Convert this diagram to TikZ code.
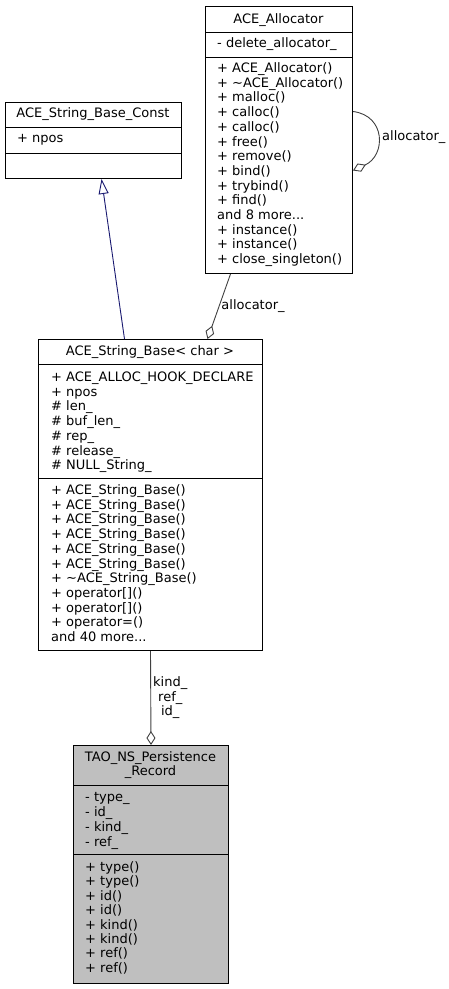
\documentclass[tikz,border=0pt]{standalone}
\usepackage{fontspec}
\setmainfont{DejaVu Sans}
\usetikzlibrary{arrows.meta}
\definecolor{edgegray}{HTML}{404040}
\definecolor{navyline}{HTML}{191970}
\definecolor{cellgray}{HTML}{BFBFBF}
\begin{document}
\begin{tikzpicture}[x=1pt,y=-1pt,
    classbox/.style={draw=black,line width=1pt,anchor=north west,inner sep=0pt},
    member/.style={anchor=base west,inner sep=0pt,align=left,font=\fontsize{13}{14.7}\selectfont},
    title/.style={anchor=base,inner sep=0pt,align=center,font=\fontsize{13}{14}\selectfont},
    lbl/.style={inner sep=2pt,align=center,font=\fontsize{13}{14.5}\selectfont},
    inherit/.style={draw=navyline,line width=0.9pt,-{Triangle[open,length=15pt,width=10pt]}},
    aggr/.style={draw=edgegray,line width=0.9pt,-{Diamond[open,length=14pt,width=9pt]}}]
  \useasboundingbox (0,0) rectangle (448,989);
  % ACE_Allocator (member nodes sit on the baseline of their last line)
  \node[classbox,minimum width=147pt,minimum height=267pt] (alloc) at (205,6) {};
  \draw[line width=1pt] (205,32) -- (352,32) (205,57) -- (352,57);
  \node[title] (alloct) at (278.5,23) {ACE\_Allocator};
  \node[member] (alloca) at (217,47.5) {- delete\_allocator\_};
  \node[member] (allocm) at (217,263.6) {+ ACE\_Allocator()\\+ \string~ACE\_Allocator()\\+ malloc()\\+ calloc()\\+ calloc()\\+ free()\\+ remove()\\+ bind()\\+ trybind()\\+ find()\\and 8 more...\\+ instance()\\+ instance()\\+ close\_singleton()};
  % ACE_String_Base_Const
  \node[classbox,minimum width=176pt,minimum height=76pt] (cst) at (5,102) {};
  \draw[line width=1pt] (5,127) -- (181,127) (5,153) -- (181,153);
  \node[title] (cstt) at (93,117.5) {ACE\_String\_Base\_Const};
  \node[member] (csta) at (17,142.5) {+ npos};
  % ACE_String_Base< char >
  \node[classbox,minimum width=224pt,minimum height=311pt] (sb) at (38,339) {};
  \draw[line width=1pt] (38,364) -- (262,364) (38,478) -- (262,478);
  \node[title] (sbt) at (150,355.5) {ACE\_String\_Base< char >};
  \node[member] (sba) at (51,469.7) {+ ACE\_ALLOC\_HOOK\_DECLARE\\+ npos\\\# len\_\\\# buf\_len\_\\\# rep\_\\\# release\_\\\# NULL\_String\_};
  \node[member] (sbm) at (51,641.5) {+ ACE\_String\_Base()\\+ ACE\_String\_Base()\\+ ACE\_String\_Base()\\+ ACE\_String\_Base()\\+ ACE\_String\_Base()\\+ ACE\_String\_Base()\\+ \string~ACE\_String\_Base()\\+ operator[]()\\+ operator[]()\\+ operator=()\\and 40 more...};
  % TAO_NS_Persistence_Record
  \node[classbox,fill=cellgray,minimum width=155pt,minimum height=238pt] (tao) at (73,745) {};
  \draw[line width=1pt] (73,785) -- (228,785) (73,854) -- (228,854);
  \node[title] (taot) at (150.5,775.5) {TAO\_NS\_Persistence\\\_Record};
  \node[member,font=\fontsize{13}{15}\selectfont] (taoa) at (85,846.5) {- type\_\\- id\_\\- kind\_\\- ref\_};
  \node[member,font=\fontsize{13}{14.4}\selectfont] (taom) at (85,972.3) {+ type()\\+ type()\\+ id()\\+ id()\\+ kind()\\+ kind()\\+ ref()\\+ ref()};
  % connectors
  \draw[inherit] ([xshift=-26pt]sb.north) -- ([xshift=8pt]cst.south);
  \draw[aggr] ([xshift=-48.5pt]alloc.south) -- ([xshift=57pt]sb.north)
    node[lbl,right,pos=0.5] {allocator\_};
  \draw[aggr] ([yshift=28.5pt]alloc.east) .. controls +(33,4) and +(33,-15) .. ([yshift=-30.5pt]alloc.east)
    node[lbl,right,pos=0.5,xshift=2pt] {allocator\_};
  \draw[aggr] (sb.south) -- (tao.north)
    node[lbl,right,pos=0.5] {kind\_\\ref\_\\id\_};
\end{tikzpicture}
\end{document}
